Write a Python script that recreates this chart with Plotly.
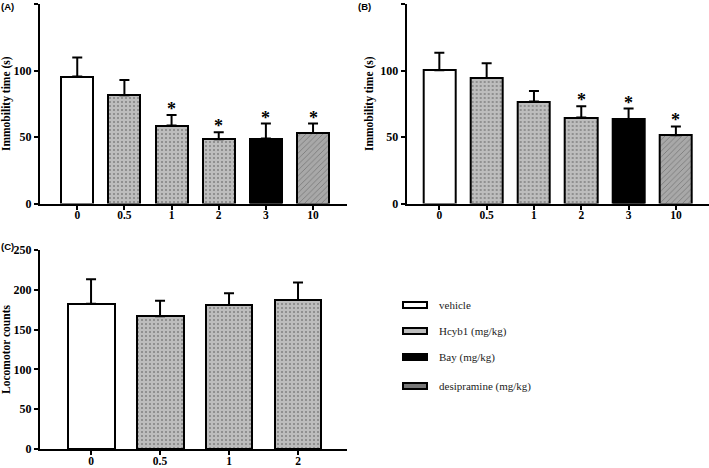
import plotly.graph_objects as go

# ---------------- data ----------------
cats_ab = ["0", "0.5", "1", "2", "3", "10"]
groups_ab = ["vehicle", "Hcyb1", "Hcyb1", "Hcyb1", "Bay", "desipramine"]
a_mean = [95.4, 81.4, 58.6, 48.4, 48.8, 53.1]
a_err = [14.3, 11.5, 8.0, 5.2, 11.3, 7.0]
a_sig = [0, 0, 1, 1, 1, 1]

b_mean = [100.2, 94.4, 76.6, 64.6, 63.6, 51.3]
b_err = [13.2, 11.0, 8.0, 8.5, 7.8, 6.6]
b_sig = [0, 0, 0, 1, 1, 1]

cats_c = ["0", "0.5", "1", "2"]
groups_c = ["vehicle", "Hcyb1", "Hcyb1", "Hcyb1"]
c_mean = [182.5, 166.7, 180.8, 187.1]
c_err = [30.8, 19.5, 15.0, 22.1]

legend_labels = ["vehicle", "Hcyb1 (mg/kg)", "Bay (mg/kg)", "desipramine (mg/kg)"]
legend_groups = ["vehicle", "Hcyb1", "Bay", "desipramine"]

# ---------------- styles ----------------
W, H = 709, 468
SERIF = "Liberation Serif"
style = {
    "vehicle": dict(color="white", shape="", fg="black"),
    "Hcyb1": dict(color="#bdbdbd", shape=".", fg="#333333"),
    "Bay": dict(color="black", shape="", fg="black"),
    "desipramine": dict(color="#a8a8a8", shape="/", fg="#333333"),
}


def px_x(p):
    return p / W


def px_y(p):
    return 1 - p / H


fig = go.Figure()


def add_panel(cats, groups, mean, err, xa, ya):
    fig.add_trace(go.Bar(
        x=cats, y=mean, xaxis=xa, yaxis=ya, width=0.68,
        marker=dict(
            color=[style[g]["color"] for g in groups],
            line=dict(color="black", width=2),
            pattern=dict(
                shape=[style[g]["shape"] for g in groups],
                fgcolor=[style[g]["fg"] for g in groups],
                fillmode="overlay", size=4, solidity=0.2,
            ),
        ),
        error_y=dict(type="data", symmetric=False, array=err,
                     arrayminus=[0] * len(err), color="black",
                     thickness=2, width=5),
        showlegend=False, hoverinfo="skip",
    ))


add_panel(cats_ab, groups_ab, a_mean, a_err, "x", "y")
add_panel(cats_ab, groups_ab, b_mean, b_err, "x2", "y2")
add_panel(cats_c, groups_c, c_mean, c_err, "x3", "y3")

annotations = []
for mean, err, sig, xr, yr in [
    (a_mean, a_err, a_sig, "x", "y"),
    (b_mean, b_err, b_sig, "x2", "y2"),
]:
    for i, (m, e, s) in enumerate(zip(mean, err, sig)):
        if s:
            annotations.append(dict(
                x=i, y=m + e, xref=xr, yref=yr, text="*", showarrow=False,
                yanchor="bottom", yshift=-6,
                font=dict(family=SERIF, size=18, color="black", weight="bold"),
            ))

tickfont = dict(family=SERIF, size=12, color="black", weight="bold")
xtickfont = dict(family=SERIF, size=11.5, color="black", weight="bold")
titlefont = dict(family=SERIF, size=11.5, color="black", weight="bold")

common_x = dict(showline=True, linecolor="black", linewidth=2, ticks="outside",
                ticklen=4, tickwidth=2, tickcolor="black", tickfont=xtickfont,
                ticklabelstandoff=-4,
                showgrid=False, zeroline=False, automargin=False, type="category")
common_y = dict(showline=True, linecolor="black", linewidth=2, ticks="outside",
                ticklen=4, tickwidth=2, tickcolor="black", tickfont=tickfont,
                showgrid=False, zeroline=False, automargin=False)

ab_bottom, ab_top = px_y(203.5), px_y(4)
c_bottom, c_top = px_y(449), px_y(250)

fig.update_layout(
    width=W, height=H, margin=dict(l=0, r=0, t=0, b=0),
    paper_bgcolor="white", plot_bgcolor="white", bargap=0,
    xaxis=dict(common_x, domain=[px_x(40), px_x(347)], range=[-0.79, 5.72], anchor="y"),
    yaxis=dict(common_y, domain=[ab_bottom, ab_top], range=[0, 150], dtick=50, anchor="x",
               title=dict(text="Immobility time (s)", font=titlefont, standoff=4)),
    xaxis2=dict(common_x, domain=[px_x(406.7), 1.0], range=[-0.69, 5.70], anchor="y2"),
    yaxis2=dict(common_y, domain=[ab_bottom, ab_top], range=[0, 150], dtick=50, anchor="x2",
                title=dict(text="Immobility time (s)", font=titlefont, standoff=4)),
    xaxis3=dict(common_x, domain=[px_x(40), px_x(347)], range=[-0.74, 3.71], anchor="y3"),
    yaxis3=dict(common_y, domain=[c_bottom, c_top], range=[0, 250], dtick=50, anchor="x3",
                title=dict(text="Locomotor counts", font=titlefont, standoff=4)),
)

# panel letters
for lab, x, y in [("(A)", 0, 7), ("(B)", 357, 7), ("(C)", 0, 246)]:
    annotations.append(dict(
        x=px_x(x), y=px_y(y), xref="paper", yref="paper", text=lab, showarrow=False,
        xanchor="left", yanchor="middle", xshift=-1,
        font=dict(family="Liberation Sans", size=9.5, color="black", weight="bold"),
    ))

# legend (drawn manually to get wide flat swatches)
shapes = []
leg_y = [305, 331, 357, 386]
for lab, g, y in zip(legend_labels, legend_groups, leg_y):
    st = style[g]
    shapes.append(dict(type="rect", xref="paper", yref="paper",
                       x0=px_x(403), x1=px_x(427), y0=px_y(y + 3), y1=px_y(y - 3),
                       fillcolor=st["color"] if g != "desipramine" else "#777777",
                       line=dict(color="black", width=2)))
    annotations.append(dict(
        x=px_x(437), y=px_y(y), xref="paper", yref="paper", text=lab, showarrow=False,
        xanchor="left", yanchor="middle",
        font=dict(family=SERIF, size=11, color="#222222"),
    ))

fig.update_layout(annotations=annotations, shapes=shapes)
fig.write_html("out.html", config={"displayModeBar": False},
               post_script="document.body.style.margin='0';document.body.style.padding='0';")
